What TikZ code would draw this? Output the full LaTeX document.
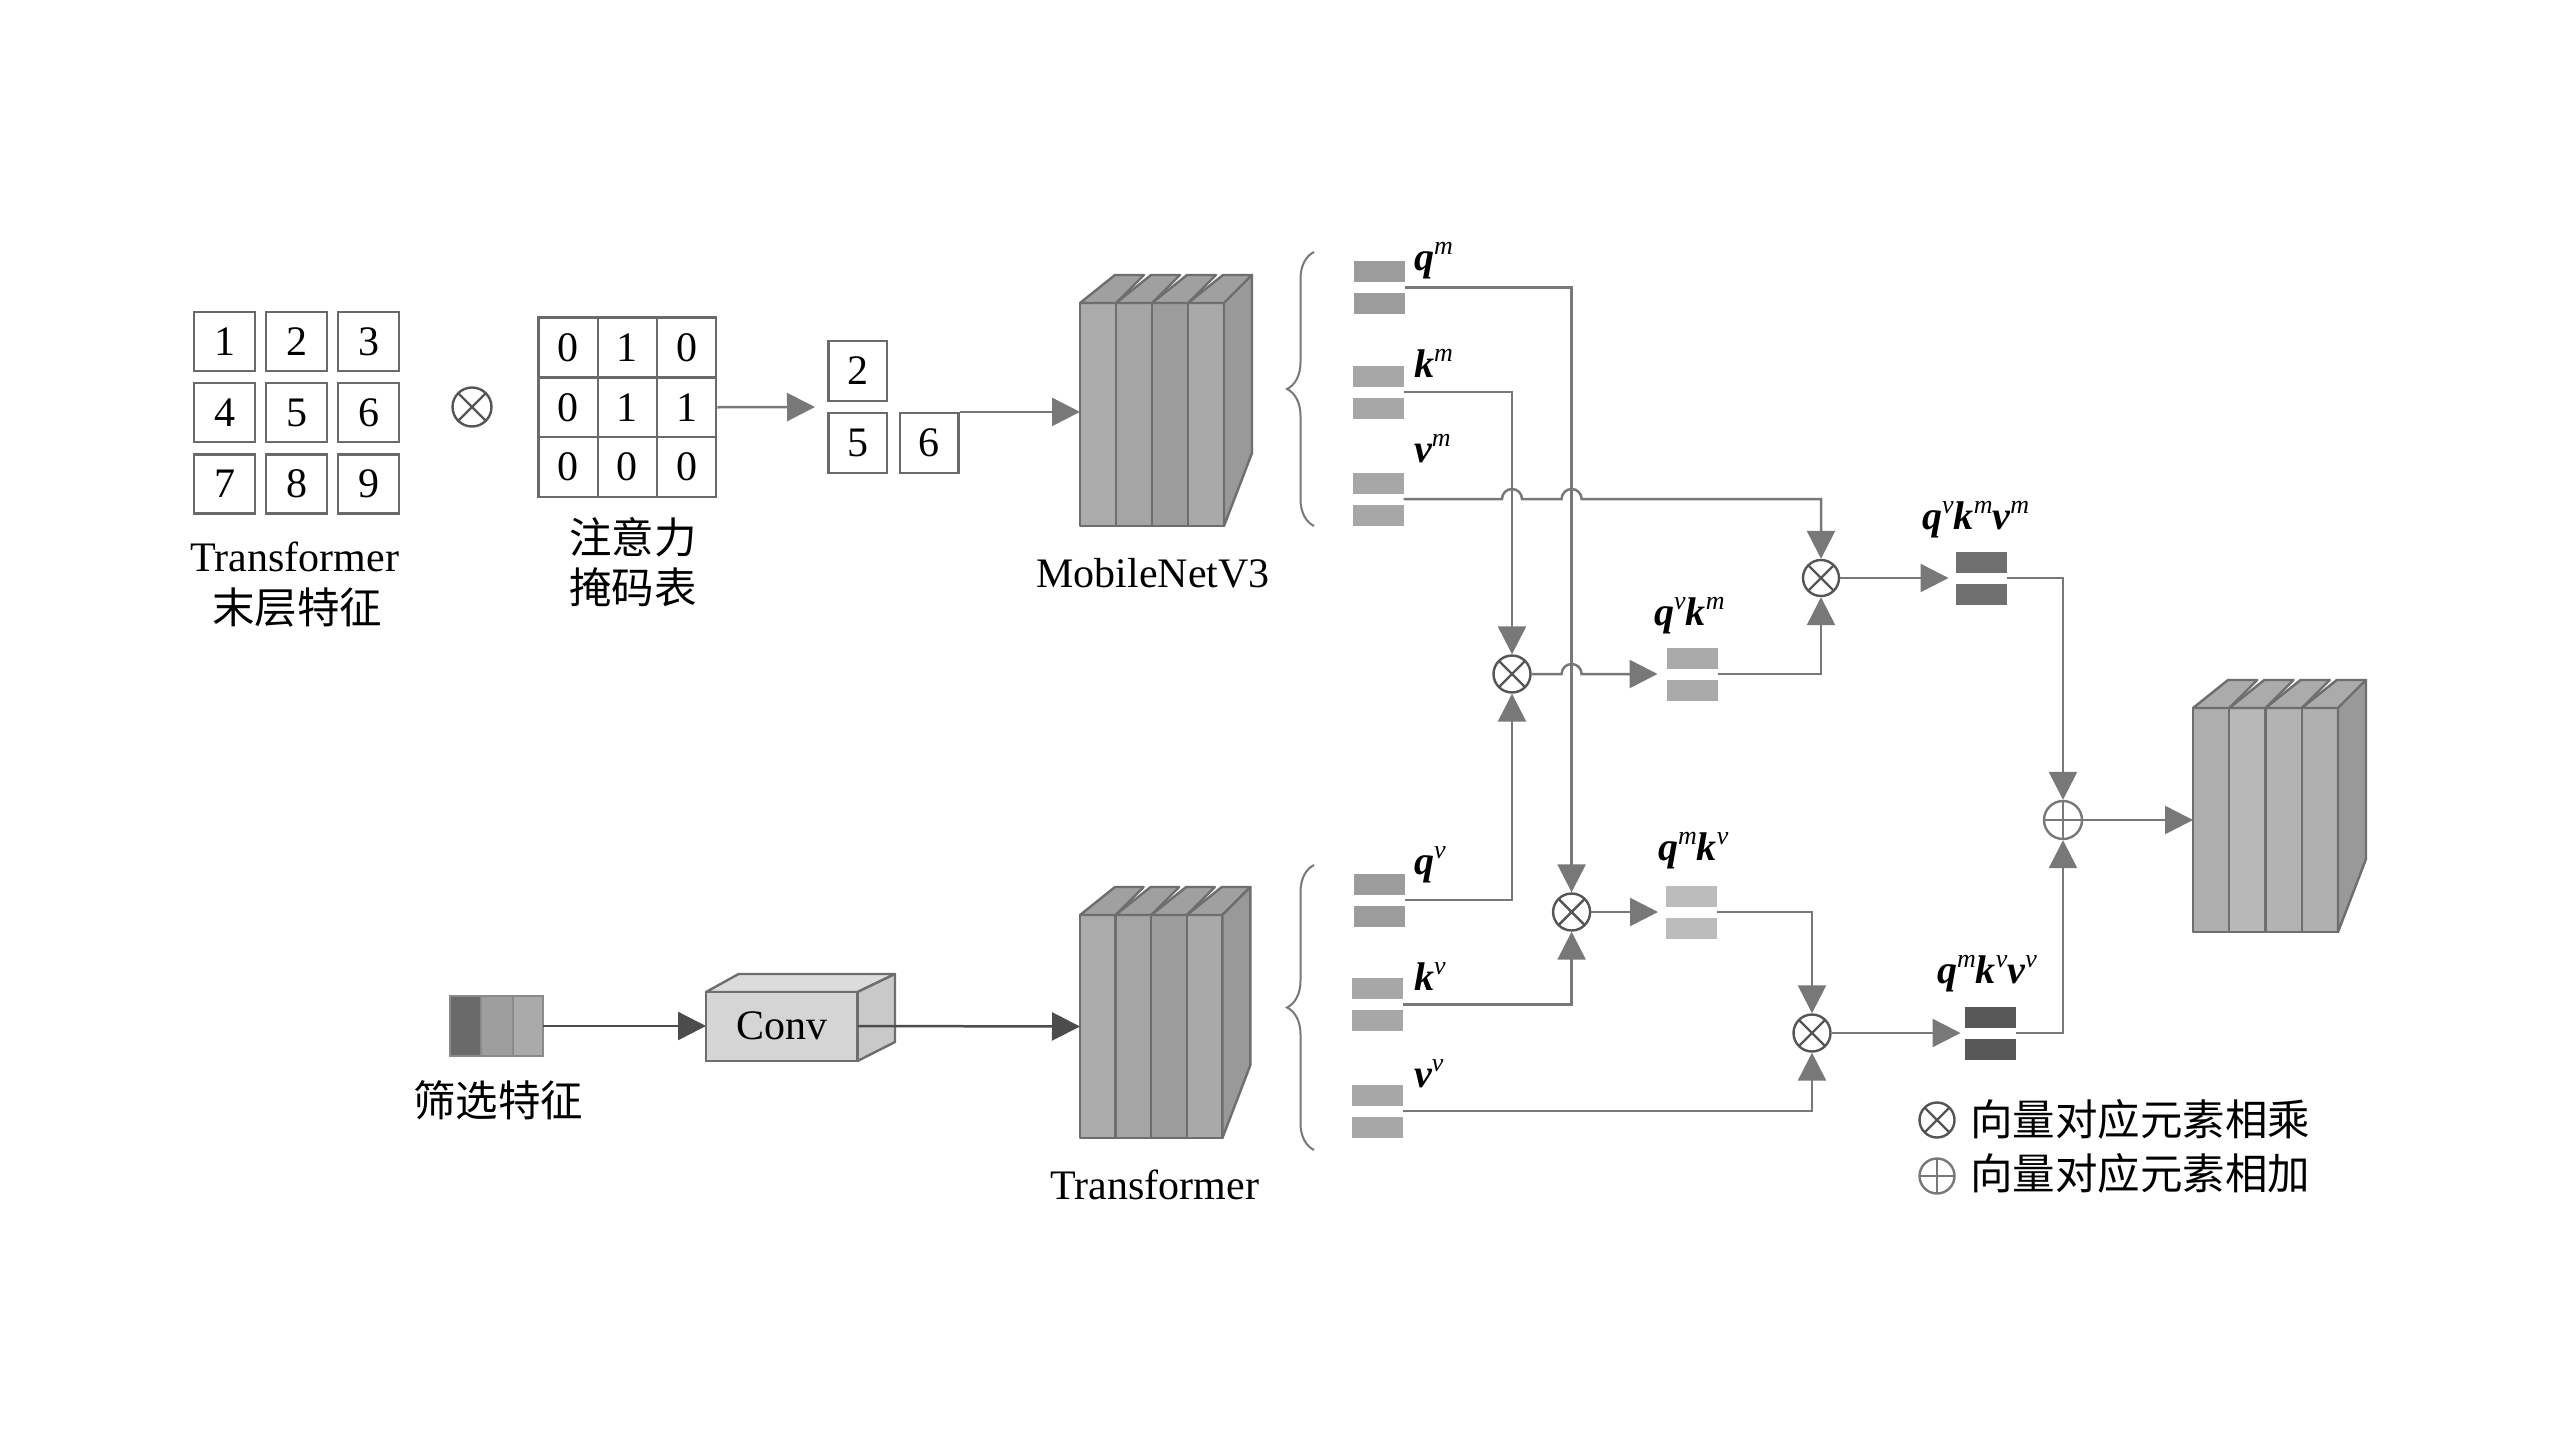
\documentclass[tikz,border=0pt]{standalone}
\usepackage{fontspec}
\usepackage{graphicx}
\setmainfont{Liberation Serif}
\newfontfamily\cjk{Noto Sans CJK SC}
\usetikzlibrary{arrows.meta,decorations.pathreplacing,calc}
\definecolor{lc}{HTML}{787878}
\definecolor{darklc}{HTML}{4C4C4C}
\definecolor{opline}{HTML}{555555}
\definecolor{boxline}{HTML}{6A6A6A}
\definecolor{slabline}{HTML}{6E6E6E}
\definecolor{slabA}{HTML}{ABABAB}
\definecolor{slabB}{HTML}{A5A5A5}
\definecolor{slabC}{HTML}{9C9C9C}
\definecolor{slabD}{HTML}{A9A9A9}
\definecolor{slabE}{HTML}{AEAEAE}
\definecolor{slabF}{HTML}{B8B8B8}
\definecolor{slabG}{HTML}{B3B3B3}
\definecolor{slabH}{HTML}{B0B0B0}
\definecolor{slabtop}{HTML}{A0A0A0}
\definecolor{slabtopL}{HTML}{ABABAB}
\definecolor{slabside}{HTML}{999999}
\definecolor{vecA}{HTML}{9C9C9C}
\definecolor{vecB}{HTML}{A7A7A7}
\definecolor{vecC}{HTML}{AAAAAA}
\definecolor{vecD}{HTML}{BCBCBC}
\definecolor{vecE}{HTML}{6F6F6F}
\definecolor{vecF}{HTML}{575757}
\definecolor{featA}{HTML}{6A6A6A}
\definecolor{featB}{HTML}{9E9E9E}
\definecolor{featC}{HTML}{AAAAAA}
\definecolor{featline}{HTML}{8A8A8A}
\definecolor{convtop}{HTML}{DCDCDC}
\definecolor{convside}{HTML}{C9C9C9}
\definecolor{convfront}{HTML}{D5D5D5}
\newcommand\numfont{\fontsize{42}{48}\selectfont}
\newcommand\cjkfont{\cjk\fontsize{42.5}{46}\selectfont}
\newcommand\lab[2]{{\fontsize{40}{42}\selectfont\bfseries\itshape #1}\raisebox{16pt}{\fontsize{26}{28}\selectfont\itshape #2}}
\newcommand\slabblock[6]{%
  \foreach \fc [count=\i from 0] in {#5}{%
    \pgfmathsetmacro\xa{#1+\i*#4}%
    \pgfmathsetmacro\xb{#1+(\i+1)*#4}%
    \filldraw[draw=slabline, line width=2.4pt, line join=round, fill=\fc] (\xa,#2) rectangle (\xb,#3);
    \filldraw[draw=slabline, line width=2.4pt, line join=round, fill=#6] (\xa,#2) -- (\xa+35,#2-28) -- (\xb+28,#2-28) -- (\xb,#2) -- cycle;
  }
  \pgfmathsetmacro\xe{#1+4*#4}%
  \filldraw[draw=slabline, line width=2.4pt, line join=round, fill=slabside] (\xe,#2) -- (\xe+28,#2-28) -- (\xe+28,#3-73) -- (\xe,#3) -- cycle;
}
\newcommand\vecpair[4]{%
  \node[vecnode] (#1) at (#2,#3) {};
  \fill[#4] (#1.north west) rectangle ([yshift=-21pt]#1.north east);
  \fill[#4] (#1.south west) rectangle ([yshift=21pt]#1.south east);
}
\tikzset{
  numcell/.style={draw=boxline, line width=2.2pt, minimum width=61pt, minimum height=59pt, inner sep=0pt, font=\numfont},
  maskcell/.style={draw=boxline, line width=2.2pt, minimum width=59.3pt, minimum height=60pt, inner sep=0pt, font=\numfont},
  selcell/.style={draw=boxline, line width=2.2pt, minimum width=58.5pt, minimum height=60pt, inner sep=0pt, font=\numfont},
  vecnode/.style={minimum width=51pt, minimum height=53pt, inner sep=0pt, outer sep=0pt},
  blocknode/.style={minimum width=#1, inner sep=0pt, outer sep=0pt},
  otimes/.style={circle, draw=opline, line width=2.4pt, minimum size=#1, inner sep=0pt, fill=white,
    path picture={\draw[opline, line width=2.4pt] (path picture bounding box.north west) -- (path picture bounding box.south east) (path picture bounding box.north east) -- (path picture bounding box.south west);}},
  oplus/.style={circle, draw=lc, line width=2.4pt, minimum size=#1, inner sep=0pt, fill=white,
    path picture={\draw[lc, line width=2.4pt] (path picture bounding box.north) -- (path picture bounding box.south) (path picture bounding box.west) -- (path picture bounding box.east);}},
  conn/.style={draw=lc, line width=2.5pt, -{Triangle[length=28pt,width=28pt,color=lc]}},
  dconn/.style={draw=darklc, line width=2.5pt, -{Triangle[length=28pt,width=28pt,color=darklc]}},
  txt/.style={font=\numfont, inner sep=0pt},
  ctxt/.style={font=\cjkfont, inner sep=0pt},
  vlab/.style={anchor=base west, inner sep=0pt}
}
\begin{document}
\begin{tikzpicture}[x=1pt,y=-1pt]
\useasboundingbox (0,0) rectangle (2560,1440);
\fill[white] (0,0) rectangle (2560,1440);

% ---- 3x3 feature grid
\foreach \v [count=\k from 0] in {1,...,9}{
  \pgfmathtruncatemacro\cc{mod(\k,3)}
  \pgfmathtruncatemacro\rr{div(\k,3)}
  \pgfmathsetmacro\cx{224.5+72*\cc}
  \pgfmathsetmacro\cy{341.5+71.25*\rr}
  \node[numcell] (g\v) at (\cx,\cy) {\v};
}
\node[txt] (tlab1) at (295,557) {Transformer};
\node[ctxt] (tlab2) at (297,608) {末层特征};
\node[otimes=39pt] (mul0) at (472,407) {};

% ---- mask grid
\foreach \v [count=\k from 0] in {0,1,0,0,1,1,0,0,0}{
  \pgfmathtruncatemacro\cc{mod(\k,3)}
  \pgfmathtruncatemacro\rr{div(\k,3)}
  \pgfmathtruncatemacro\cn{\cc+1}
  \pgfmathtruncatemacro\rn{\rr+1}
  \pgfmathsetmacro\cx{568.1+59.2*\cc}
  \pgfmathsetmacro\cy{347.5+59.75*\rr}
  \node[maskcell] (mk\rn\cn) at (\cx,\cy) {\v};
}
\node[ctxt] (mlab1) at (633,537) {注意力};
\node[ctxt] (mlab2) at (633,587) {掩码表};

% ---- selected cells
\node[selcell] (b2) at (857.75,371) {2};
\node[selcell] (b5) at (857.75,443) {5};
\node[selcell] (b6) at (929.3,443) {6};
\coordinate (sel) at (815,407);
\draw[conn] (mk23.east) -- (sel);

% ---- MobileNetV3 block
\slabblock{1080}{303}{526}{36}{slabA,slabB,slabC,slabD}{slabtop}
\node[blocknode=144pt, minimum height=223pt] (mnet) at (1152,414.5) {};
\node[txt] (mnetlab) at (1153,573) {MobileNetV3};
\draw[conn] (b6.north east) -- (b6.north east -| mnet.west);

% ---- Transformer block
\slabblock{1080}{915}{1138}{35.6}{slabA,slabB,slabC,slabD}{slabtop}
\node[blocknode=142.5pt, minimum height=223pt] (tblock) at (1151.25,1026.5) {};
\node[txt] (tblab) at (1155,1185) {Transformer};

% ---- filtered feature and conv
\fill[featA] (450,996) rectangle (481,1056);
\fill[featB] (481,996) rectangle (513,1056);
\fill[featC] (513,996) rectangle (543,1056);
\draw[featline, line width=1.5pt] (450,996) rectangle (543,1056) (481,996) -- (481,1056) (513,996) -- (513,1056);
\node[blocknode=93pt, minimum height=60pt] (feat) at (496.5,1026) {};
\node[ctxt] (featlab) at (498,1100) {筛选特征};

\filldraw[draw=slabline, line width=2.4pt, line join=round, fill=convtop] (706,992) -- (738.6,974) -- (895,974) -- (857.5,992) -- cycle;
\filldraw[draw=slabline, line width=2.4pt, line join=round, fill=convside] (857.5,992) -- (895,974) -- (895,1042) -- (857.5,1061) -- cycle;
\filldraw[draw=slabline, line width=2.4pt, fill=convfront] (706,992) rectangle (857.5,1061);
\node[blocknode=151.5pt, minimum height=69pt, font=\numfont] (conv) at (781.75,1026) {Conv};
\draw[dconn] (feat.east) -- (conv.west);
\draw[dconn] (conv.east) -- (tblock.west);

% ---- braces
\draw[lc, line width=2pt, decorate, decoration={brace, amplitude=27pt}] (1314,526) -- (1314,252);
\draw[lc, line width=2pt, decorate, decoration={brace, amplitude=27pt}] (1314,1150) -- (1314,865);

% ---- vectors
\vecpair{qm}{1379}{287.5}{vecA}
\vecpair{km}{1378}{392}{vecB}
\vecpair{vm}{1378}{499}{vecB}
\vecpair{qv}{1379}{900}{vecA}
\vecpair{kv}{1377}{1004.5}{vecB}
\vecpair{vv}{1377}{1111}{vecB}
\vecpair{qvkm}{1692}{674}{vecC}
\vecpair{qvkmvm}{1981}{578}{vecE}
\vecpair{qmkv}{1691.5}{912}{vecD}
\vecpair{qmkvvv}{1990}{1033}{vecF}

\node[vlab] (lqm) at (1414,270) {\lab{q}{m}};
\node[vlab] (lkm) at (1414,377) {\lab{k}{m}};
\node[vlab] (lvm) at (1414,462) {\lab{v}{m}};
\node[vlab] (lqv) at (1414,874) {\lab{q}{v}};
\node[vlab] (lkv) at (1414,990) {\lab{k}{v}};
\node[vlab] (lvv) at (1414,1087) {\lab{v}{v}};
\node[vlab] (lqvkm) at (1654,625) {\lab{q}{v}\lab{k}{m}};
\node[vlab] (lqvkmvm) at (1922,529) {\lab{q}{v}\lab{k}{m}\lab{v}{m}};
\node[vlab] (lqmkv) at (1658,860) {\lab{q}{m}\lab{k}{v}};
\node[vlab] (lqmkvvv) at (1937,983) {\lab{q}{m}\lab{k}{v}\lab{v}{v}};

% ---- operators
\node[otimes=37pt] (m1) at (1512,674) {};
\node[otimes=36pt] (m2) at (1821,578) {};
\node[otimes=37pt] (m3) at (1571.6,912) {};
\node[otimes=37pt] (m4) at (1812,1033) {};
\node[oplus=38pt] (p1) at (2063,820) {};

% ---- connectors
\draw[conn] (qm.east) -| (m3.north);
\draw[conn] (km.east) -| (m1.north);
\coordinate (h1) at (vm.east -| m1);
\coordinate (h2) at (vm.east -| m3);
\draw[conn] (vm.east) -- ([xshift=-10pt]h1) arc[start angle=180, end angle=0, radius=10pt] -- ([xshift=-10pt]h2) arc[start angle=180, end angle=0, radius=10pt] -| (m2.north);
\draw[conn] (qv.east) -| (m1.south);
\coordinate (h3) at (m1 -| m3);
\draw[conn, shorten >=9pt] (m1.east) -- ([xshift=-10pt]h3) arc[start angle=180, end angle=0, radius=10pt] -- (qvkm.west);
\draw[conn] (qvkm.east) -| (m2.south);
\draw[conn, shorten >=7pt] (m2.east) -- (qvkmvm.west);
\draw[conn] (qvkmvm.east) -| (p1.north);
\draw[conn] (kv.east) -| (m3.south);
\draw[conn, shorten >=8pt] (m3.east) -- (qmkv.west);
\draw[conn] (qmkv.east) -| (m4.north);
\draw[conn] (vv.east) -| (m4.south);
\draw[conn, shorten >=4pt] (m4.east) -- (qmkvvv.west);
\draw[conn] (qmkvvv.east) -| (p1.south);

% ---- output block
\slabblock{2193}{708}{932}{36.25}{slabE,slabF,slabG,slabH}{slabtopL}
\node[blocknode=145pt, minimum height=224pt] (rblock) at (2265.5,820) {};
\draw[conn] (p1.east) -- (rblock.west);

% ---- legend
\node[otimes=35pt] (lgm) at (1937,1120) {};
\node[oplus=35pt] (lgp) at (1937,1176) {};
\node[ctxt, anchor=west] (lgmt) at (1970,1119) {向量对应元素相乘};
\node[ctxt, anchor=west] (lgpt) at (1970,1173) {向量对应元素相加};
\end{tikzpicture}
\end{document}
